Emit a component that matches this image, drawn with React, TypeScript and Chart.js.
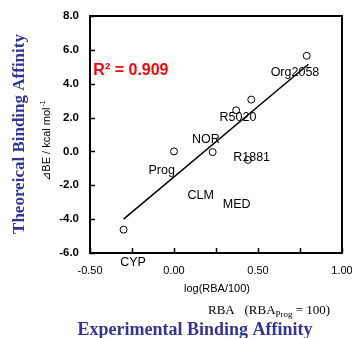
import React, { useEffect, useRef } from "react";
import { Chart, registerables } from "chart.js";

Chart.register(...registerables);

// Measured points (log(RBA/100), ΔBE)
const pointX = [-0.3, 0.0, 0.23, 0.44, 0.37, 0.46, 0.79];
const pointY = [-4.62, 0.0, -0.04, -0.5, 2.43, 3.06, 5.65];

// Regression line end points
const fitX = [-0.3, 0.8];
const fitY = [-4.0, 5.15];

// Compound labels (anchored in data coordinates)
const labelNames = ["Org2058", "R5020", "NOR", "R1881", "Prog", "CLM", "MED", "CYP"];
const labelX = [0.72, 0.381, 0.19, 0.462, -0.073, 0.159, 0.373, -0.244];
const labelY = [4.65, 1.98, 0.73, -0.35, -1.1, -2.61, -3.15, -6.57];

const r2Text = "R² = 0.909";
const r2X = -0.48;
const r2Y = 4.75;

const xMin = -0.5;
const xMax = 1.0;
const xStep = 0.25;
const yMin = -6;
const yMax = 8;
const yStep = 2;

const BLUE = "#333399";
const SANS = "'Liberation Sans', Arial, sans-serif";
const SERIF = "'Liberation Serif', 'Times New Roman', serif";

const decor = {
  id: "decor",
  afterDraw(chart: any) {
    const { ctx, chartArea: a, scales } = chart;
    const xs = scales.x;
    const ys = scales.y;
    ctx.save();
    // frame
    ctx.strokeStyle = "#000";
    ctx.lineWidth = 2;
    ctx.strokeRect(a.left, a.top, a.right - a.left, a.bottom - a.top);
    // inward ticks
    ctx.lineWidth = 1.5;
    ctx.beginPath();
    xs.ticks.forEach((t: any) => {
      const p = Math.round(xs.getPixelForValue(t.value)) + 0.5;
      ctx.moveTo(p, a.bottom);
      ctx.lineTo(p, a.bottom - 5);
    });
    ys.ticks.forEach((t: any) => {
      const p = Math.round(ys.getPixelForValue(t.value)) + 0.5;
      ctx.moveTo(a.left, p);
      ctx.lineTo(a.left + 5, p);
    });
    ctx.stroke();

    // compound labels
    ctx.fillStyle = "#000";
    ctx.font = `12.5px ${SANS}`;
    ctx.textAlign = "center";
    ctx.textBaseline = "middle";
    labelNames.forEach((n, i) => {
      ctx.fillText(n, xs.getPixelForValue(labelX[i]), ys.getPixelForValue(labelY[i]));
    });

    // R^2
    ctx.fillStyle = "#ff0000";
    ctx.font = `bold 16px ${SANS}`;
    ctx.textAlign = "left";
    ctx.fillText(r2Text, xs.getPixelForValue(r2X), ys.getPixelForValue(r2Y));

    // x-axis title
    ctx.fillStyle = "#000";
    ctx.font = `11px ${SANS}`;
    ctx.textAlign = "center";
    ctx.fillText("log(RBA/100)", 217, 289);

    // RBA (RBA_Prog = 100)
    ctx.textAlign = "left";
    ctx.textBaseline = "alphabetic";
    ctx.font = `13px ${SERIF}`;
    let x = 208;
    const base = 314;
    const p1 = "RBA   (RBA";
    ctx.fillText(p1, x, base);
    x += ctx.measureText(p1).width;
    ctx.font = `9px ${SERIF}`;
    ctx.fillText("Prog", x, base + 3);
    x += ctx.measureText("Prog").width;
    ctx.font = `13px ${SERIF}`;
    ctx.fillText(" = 100)", x, base);

    // bottom blue title
    ctx.fillStyle = BLUE;
    ctx.font = `bold 18px ${SERIF}`;
    ctx.textAlign = "center";
    ctx.textBaseline = "middle";
    ctx.fillText("Experimental Binding Affinity", 195, 330);

    // left blue title
    ctx.save();
    ctx.translate(20, 134);
    ctx.rotate(-Math.PI / 2);
    ctx.font = `bold 17px ${SERIF}`;
    ctx.fillText("Theoreical Binding Affinity", 0, 0);
    ctx.restore();

    // y-axis title
    ctx.save();
    ctx.translate(46, 141);
    ctx.rotate(-Math.PI / 2);
    ctx.fillStyle = "#000";
    ctx.textAlign = "left";
    ctx.textBaseline = "alphabetic";
    ctx.font = `11px ${SANS}`;
    const main = "⊿BE / kcal mol";
    const wMain = ctx.measureText(main).width;
    ctx.font = `7px ${SANS}`;
    const sup = "-1";
    const wSup = ctx.measureText(sup).width;
    const start = -(wMain + wSup) / 2;
    ctx.font = `11px ${SANS}`;
    ctx.fillText(main, start, 4);
    ctx.font = `7px ${SANS}`;
    ctx.fillText(sup, start + wMain + 1, -1);
    ctx.restore();

    ctx.restore();
  },
};

export default function App() {
  const ref = useRef<HTMLCanvasElement | null>(null);
  useEffect(() => {
    if (!ref.current) return;
    const chart = new Chart(ref.current, {
      type: "scatter",
      data: {
        datasets: [
          {
            data: pointX.map((v, i) => ({ x: v, y: pointY[i] })),
            pointStyle: "circle",
            pointRadius: 3.5,
            backgroundColor: "#ffffff",
            borderColor: "#000000",
            borderWidth: 1,
            showLine: false,
          },
          {
            data: fitX.map((v, i) => ({ x: v, y: fitY[i] })),
            showLine: true,
            borderColor: "#000000",
            borderWidth: 1.5,
            pointRadius: 0,
          },
        ],
      },
      options: {
        animation: false,
        responsive: false,
        events: [],
        layout: { padding: { left: 0, top: 16, right: 10, bottom: 0 } },
        plugins: { legend: { display: false }, tooltip: { enabled: false } },
        scales: {
          x: {
            type: "linear",
            min: xMin,
            max: xMax,
            grid: { display: false, drawTicks: false },
            border: { display: false },
            ticks: {
              stepSize: xStep,
              padding: 11,
              autoSkip: false,
              maxRotation: 0,
              color: "#000",
              font: { family: SANS, size: 11 },
              callback: (v: any) => {
                const n = Number(v);
                return Math.abs(n * 2 - Math.round(n * 2)) < 1e-6 ? n.toFixed(2) : "";
              },
            },
            afterFit: (s: any) => {
              s.height = 85;
              s.paddingLeft = 0;
              s.paddingRight = 0;
            },
          },
          y: {
            type: "linear",
            min: yMin,
            max: yMax,
            grid: { display: false, drawTicks: false },
            border: { display: false },
            ticks: {
              stepSize: yStep,
              padding: 11,
              color: "#000",
              font: { family: SANS, size: 11.5, weight: "bold" },
              callback: (v: any) => Number(v).toFixed(1),
            },
            afterFit: (s: any) => {
              s.width = 90;
              s.paddingTop = 0;
              s.paddingBottom = 0;
            },
          },
        },
      },
      plugins: [decor],
    });
    return () => chart.destroy();
  }, []);
  return (
    <div style={{ position: "absolute", left: 0, top: 0, width: 352, height: 338 }}>
      <canvas ref={ref} width={352} height={338} />
    </div>
  );
}
